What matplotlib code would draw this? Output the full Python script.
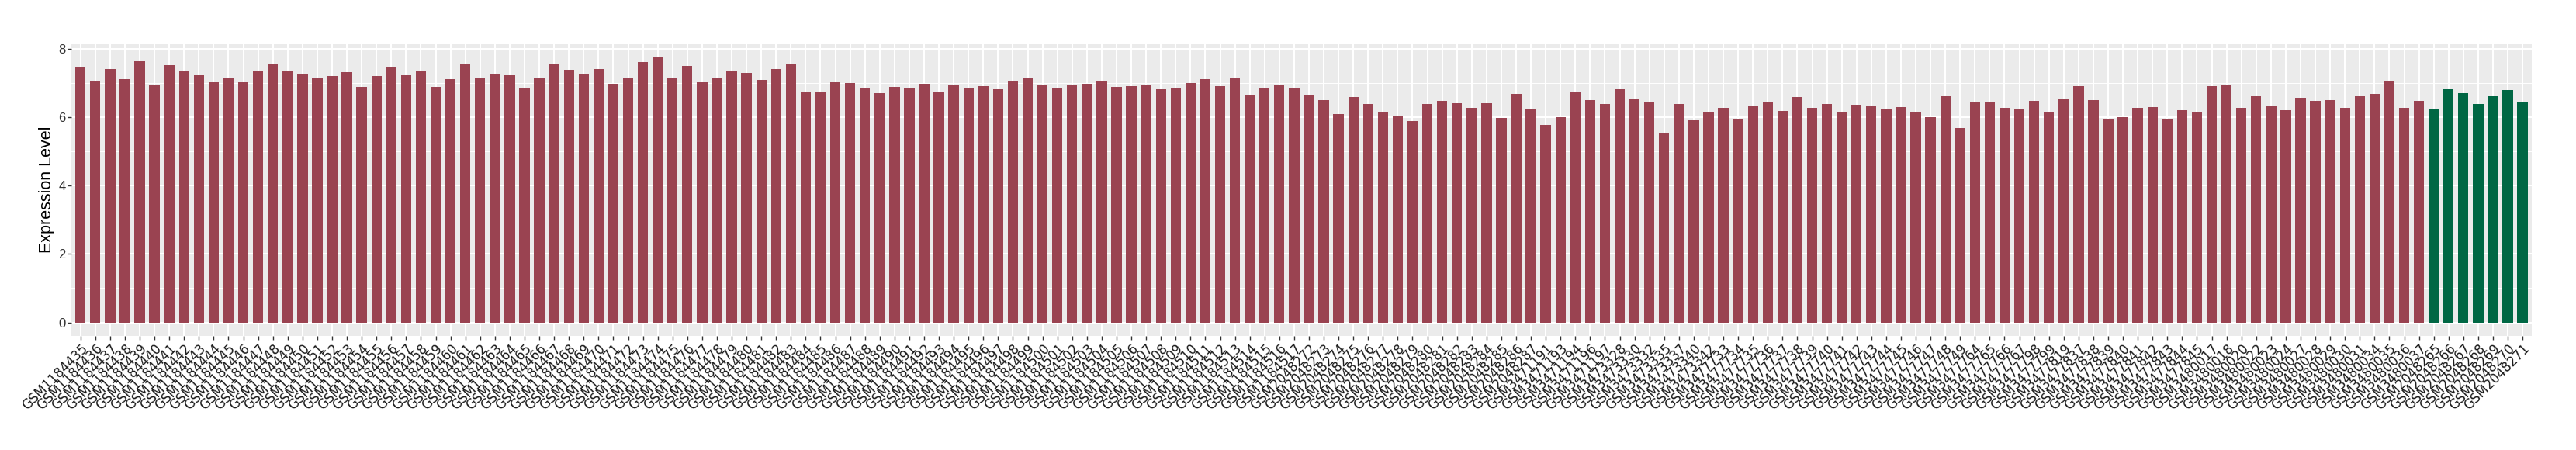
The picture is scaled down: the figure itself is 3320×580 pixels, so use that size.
import matplotlib
matplotlib.use("Agg")
import matplotlib.pyplot as plt
import numpy as np

# sample ids (tick labels)
ids_a = ["GSM%d" % n for n in range(1184435, 1184518)]
ids_b = ["GSM%d" % n for n in range(2048272, 2048288)]
ids_c = ["GSM3471191", "GSM3471193", "GSM3471194", "GSM3471196", "GSM3471197",
         "GSM3473328", "GSM3473330", "GSM3473332", "GSM3473335", "GSM3473337",
         "GSM3473340", "GSM3473342"] + \
        ["GSM%d" % n for n in range(3477733, 3477750)] + \
        ["GSM3477764", "GSM3477765", "GSM3477766", "GSM3477767", "GSM3477798",
         "GSM3477799", "GSM3477819", "GSM3477837", "GSM3477838", "GSM3477839",
         "GSM3477840", "GSM3477841", "GSM3477842", "GSM3477843", "GSM3477844",
         "GSM3477845", "GSM3480017", "GSM3480018", "GSM3480020", "GSM3480022",
         "GSM3480023", "GSM3480024", "GSM3480027", "GSM3480028", "GSM3480029",
         "GSM3480030", "GSM3480031", "GSM3480034", "GSM3480035", "GSM3480036",
         "GSM3480037"]
ids_green = ["GSM%d" % n for n in range(2048265, 2048272)]

# expression values
vals_a = [7.45, 7.07, 7.40, 7.11, 7.63, 6.93, 7.52, 7.36, 7.23, 7.02,
          7.14, 7.02, 7.34, 7.55, 7.36, 7.27, 7.16, 7.20, 7.32, 6.88,
          7.20, 7.48, 7.23, 7.34, 6.88, 7.11, 7.56, 7.14, 7.27, 7.23,
          6.87, 7.14, 7.56, 7.39, 7.27, 7.40, 6.98, 7.16, 7.61, 7.75,
          7.14, 7.50, 7.02, 7.16, 7.34, 7.29, 7.09, 7.40, 7.56, 6.75,
          6.75, 7.02, 7.00, 6.84, 6.71, 6.88, 6.87, 6.98, 6.73, 6.93,
          6.87, 6.91, 6.82, 7.04, 7.14, 6.93, 6.84, 6.93, 6.98, 7.04,
          6.88, 6.91, 6.93, 6.82, 6.84, 7.00, 7.11, 6.91, 7.14, 6.66,
          6.87, 6.95, 6.87]
vals_b = [6.63, 6.50, 6.10, 6.59, 6.39, 6.14, 6.02, 5.89, 6.39, 6.48,
          6.41, 6.27, 6.41, 5.98, 6.68, 6.23]
vals_c = [5.78, 6.00, 6.73, 6.50, 6.39,
          6.82, 6.55, 6.43, 5.53, 6.39, 5.91, 6.14,
          6.27, 5.94, 6.34, 6.43, 6.18, 6.59, 6.27, 6.39, 6.14, 6.37,
          6.32, 6.23, 6.30, 6.16, 6.00, 6.62, 5.69,
          6.43, 6.43, 6.27, 6.26, 6.48, 6.14,
          6.55, 6.91, 6.50, 5.95, 6.00, 6.27, 6.30, 5.95, 6.21, 6.14,
          6.91, 6.95, 6.27, 6.62, 6.32, 6.21, 6.57, 6.48, 6.50, 6.27,
          6.62, 6.68, 7.04, 6.27, 6.48]
vals_green = [6.23, 6.82, 6.71, 6.39, 6.62, 6.79, 6.46]

labels = ids_a + ids_b + ids_c + ids_green
values = vals_a + vals_b + vals_c + vals_green
n_red = len(ids_a) + len(ids_b) + len(ids_c)
colors = ["#9A4351"] * n_red + ["#006744"] * len(ids_green)

fig = plt.figure(figsize=(33.2, 5.8), dpi=100)
ax = fig.add_axes([0.0278, 0.254, 0.9549, 0.6482])
ax.set_facecolor("#EBEBEB")

x = np.arange(len(values))
ax.bar(x, values, width=0.7, color=colors, zorder=3)

ymax = max(values)
ax.set_ylim(-0.05 * ymax, ymax * 1.05)
ax.set_xlim(-0.6, len(values) - 1 + 0.6)

ax.set_yticks([0, 2, 4, 6, 8])
ax.set_yticks([1, 3, 5, 7], minor=True)
ax.set_xticks(x)
ax.set_xticklabels(labels, rotation=45, ha="right", rotation_mode="anchor",
                   fontsize=12, family="DejaVu Sans", color="#1A1A1A")
for t in ax.get_yticklabels():
    t.set_family("Liberation Sans")
    t.set_fontsize(12)
    t.set_color("#333333")

ax.grid(True, which="major", color="white", linewidth=1.5, zorder=0)
ax.grid(True, which="minor", axis="y", color="white", linewidth=0.7, zorder=0)
ax.tick_params(axis="both", which="major", length=3.5, width=1, color="#333333", pad=2)
ax.tick_params(axis="y", which="minor", length=0)
for s in ax.spines.values():
    s.set_visible(False)

ax.set_ylabel("Expression Level", fontsize=15.5, family="Liberation Sans", labelpad=3)

fig.savefig("out.png", dpi=100)
